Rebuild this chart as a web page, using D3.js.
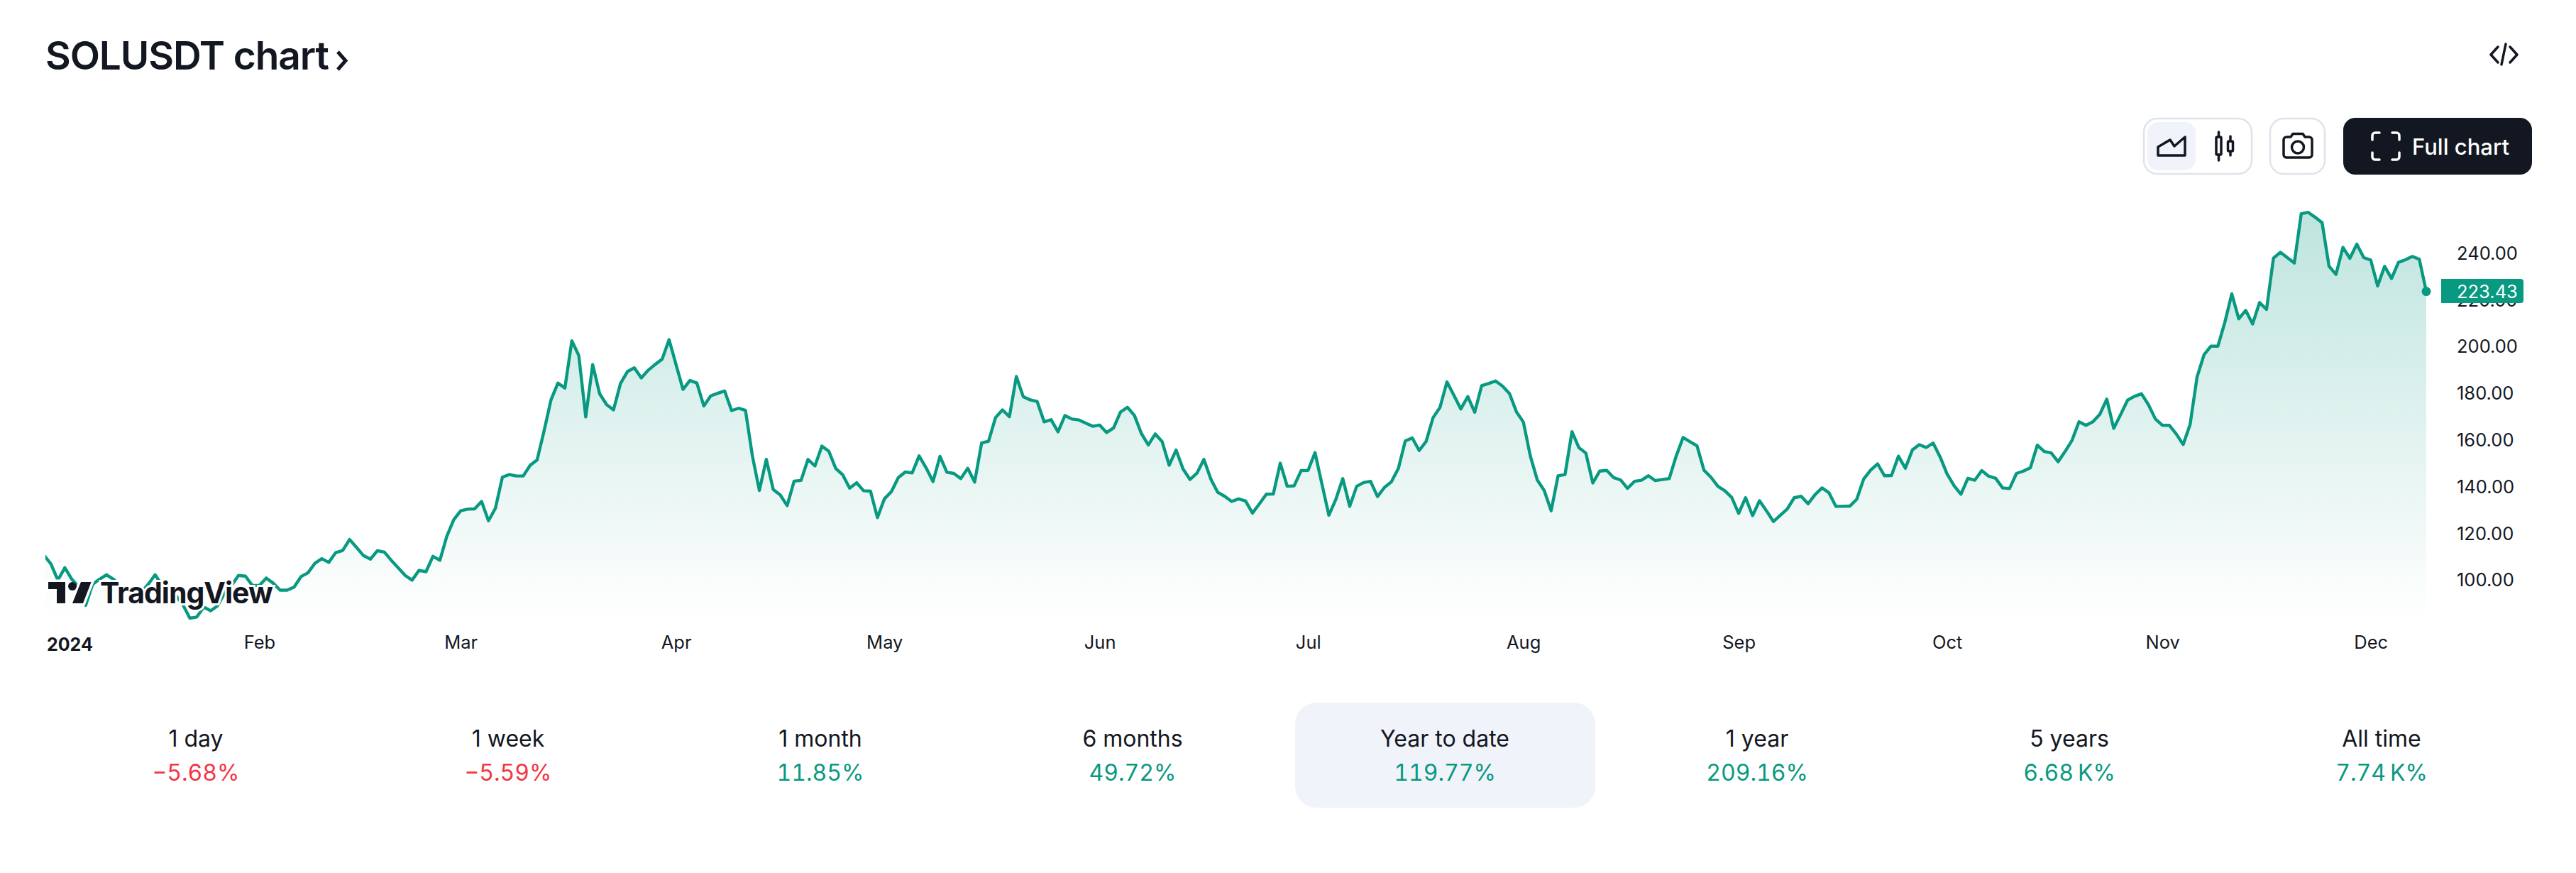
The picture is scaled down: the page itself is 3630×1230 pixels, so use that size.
<!DOCTYPE html>
<html><head><meta charset="utf-8"><title>SOLUSDT chart</title>
<script src="https://cdn.jsdelivr.net/npm/d3@7"></script>
<style>html,body{margin:0;background:#fff}svg{display:block}text{font-family:Inter,"Noto Sans",sans-serif}.tnum{font-variant-numeric:tabular-nums}</style>
</head><body><svg id="c" width="3630" height="1230"></svg>
<script>
const startDate = "2024-01-01";
const closes = [
110.5,106.7,99.8,105.1,100.2,96.9,89.0,98.0,100.2,102.1,100.2,96.9,95.3,93.7,94.7,98.0,102.1,97.5,95.3,93.1,
89.3,83.5,84.0,88.3,86.7,88.8,94.2,97.5,101.8,101.5,97.5,97.5,100.7,98.5,95.5,95.5,96.8,101.3,102.9,107.0,
109.0,107.4,111.6,112.5,117.2,113.8,110.3,108.8,112.4,111.8,108.3,105.1,101.8,99.8,104.0,103.4,110.0,108.3,118.6,125.7,
129.5,130.2,130.3,133.5,125.2,130.6,143.9,145.0,144.4,144.4,149.0,151.3,163.7,177.0,184.2,182.1,202.3,196.0,169.7,192.1,
179.6,175.0,172.7,184.0,189.1,190.7,186.4,189.7,192.2,194.4,202.8,192.1,181.5,185.3,184.2,174.4,178.7,179.8,180.8,172.4,
173.4,172.5,152.9,138.2,151.5,138.6,136.3,131.7,142.2,142.5,151.5,148.7,157.2,155.0,147.6,144.9,139.2,141.5,138.1,137.9,
126.6,134.6,137.7,143.7,146.1,145.7,153.0,147.9,142.0,152.8,146.0,145.5,143.3,147.7,141.8,158.5,159.3,169.4,172.7,169.8,
187.0,178.3,177.0,176.3,167.6,168.5,163.3,170.3,168.8,168.4,167.0,165.7,166.2,163.0,165.0,171.8,173.8,170.3,162.6,157.7,
162.4,159.1,149.0,155.5,147.4,142.9,145.6,151.5,143.1,137.4,135.7,133.5,134.6,133.7,128.5,132.5,136.6,136.7,149.9,140.0,
140.2,146.7,146.8,154.4,140.9,127.6,134.4,143.3,131.4,140.0,141.6,142.1,135.6,139.5,141.9,147.6,159.4,160.7,155.3,159.2,
169.4,173.8,184.7,178.9,173.1,178.4,171.7,183.1,184.0,185.1,182.9,179.7,171.9,167.5,153.0,142.7,138.2,129.5,144.5,145.0,
163.4,156.5,154.2,141.4,146.5,146.8,143.7,142.7,139.1,142.1,142.6,144.5,142.4,142.9,143.3,152.9,160.9,159.1,157.3,146.9,
143.9,140.0,138.1,135.2,128.4,135.1,127.4,133.8,129.5,124.9,127.6,130.3,135.1,135.7,132.5,136.4,139.3,137.2,131.4,131.4,
131.5,134.4,143.1,146.9,149.6,144.5,144.6,152.9,147.7,155.5,157.8,156.6,158.5,152.6,145.3,140.3,136.6,143.4,142.6,146.7,
144.3,143.4,139.3,139.0,145.5,146.5,147.9,157.6,154.9,154.3,150.5,154.9,159.7,167.6,166.1,167.6,170.8,177.3,164.8,170.7,
176.9,178.5,179.6,174.9,168.8,166.1,166.1,162.4,157.9,166.5,186.8,196.3,200.0,200.0,210.2,222.4,211.7,215.3,209.5,218.7,
215.7,237.7,240.2,237.9,235.6,256.7,257.3,255.2,252.9,234.2,230.7,242.3,237.6,243.7,237.9,236.9,225.8,234.2,229.0,235.9,
237.0,238.4,237.2,223.43];
const priceTicks = [100,120,140,160,180,200,220,240];
const monthStarts = ["2024-02-01","2024-03-01","2024-04-01","2024-05-01","2024-06-01","2024-07-01","2024-08-01","2024-09-01","2024-10-01","2024-11-01","2024-12-01"];
const monthLabels = ["Feb","Mar","Apr","May","Jun","Jul","Aug","Sep","Oct","Nov","Dec"];
const yearLabel = "2024";
const tabLabels = ["1 day","1 week","1 month","6 months","Year to date","1 year","5 years","All time"];
const tabValues = ["\u22125.68%","\u22125.59%","11.85%","49.72%","119.77%","209.16%","6.68\u202fK%","7.74\u202fK%"];
const activeTab = "Year to date";

const GREEN="#089981", RED="#f23645", INK="#131722", LINE="#e0e3eb", SOFT="#f0f3fa";
const svg=d3.select("#c");
const t0=new Date(startDate+"T00:00:00Z");
const points=closes.map((v,i)=>({d:d3.utcDay.offset(t0,i),v}));
const x=d3.scaleUtc().domain([t0,points[points.length-1].d]).range([62,3419]);
const y=d3.scaleLinear().domain([100,240]).range([816.7,356.1]);

const defs=svg.append("defs");
const g=defs.append("linearGradient").attr("id","fade").attr("gradientUnits","userSpaceOnUse")
  .attr("x1",0).attr("x2",0).attr("y1",298).attr("y2",876);
g.append("stop").attr("offset",0).attr("stop-color",GREEN).attr("stop-opacity",.26);
g.append("stop").attr("offset",1).attr("stop-color",GREEN).attr("stop-opacity",0);
defs.append("clipPath").attr("id","pane").append("rect").attr("x",64).attr("y",280).attr("width",3400).attr("height",600);

// price axis (under the last-price badge)
const ya=svg.append("g").attr("transform","translate(3462,1)")
  .call(d3.axisRight(y).tickValues(priceTicks).tickSize(0).tickPadding(0).tickFormat(d3.format(".2f")));
ya.select(".domain").remove();
ya.selectAll("text").attr("font-size",25.5).attr("fill",INK).attr("font-family","Inter").attr("text-anchor","start");

// time axis
const xa=svg.append("g").attr("transform","translate(0,896)")
  .call(d3.axisBottom(x).tickValues(monthStarts.map(s=>new Date(s+"T00:00:00Z"))).tickSize(0).tickPadding(0)
    .tickFormat((d,i)=>monthLabels[i]));
xa.select(".domain").remove();
xa.selectAll("text").attr("font-size",25.5).attr("fill",INK).attr("font-family","Inter");
svg.append("text").attr("x",66).attr("y",917).attr("font-size",25).attr("font-weight",700).attr("fill",INK).text(yearLabel);

// area + line
const pane=svg.append("g").attr("clip-path","url(#pane)");
pane.append("path").datum(points).attr("fill","url(#fade)")
  .attr("d",d3.area().x(d=>x(d.d)).y0(876).y1(d=>y(d.v)));
pane.append("path").datum(points).attr("fill","none").attr("stroke",GREEN).attr("stroke-width",4.4).attr("stroke-linejoin","round")
  .attr("d",d3.line().x(d=>x(d.d)).y(d=>y(d.v)));
const last=points[points.length-1];

// last-price badge and dot
svg.append("path").attr("fill",GREEN).attr("d","M3440 393H3552a4 4 0 0 1 4 4V423a4 4 0 0 1 -4 4H3440Z");
svg.append("text").attr("x",3462).attr("y",y(last.v)).attr("dy","0.36em").attr("font-size",25.5).attr("fill","#fff").text(last.v.toFixed(2));
svg.append("circle").attr("cx",x(last.d)).attr("cy",y(last.v)).attr("r",6.5).attr("fill",GREEN);

// TradingView logo with white halo
const logo=svg.append("g");
const logoShapes=[
 "M68 820H92V850H80V830H68Z",
 "M114 820H128.6L117 850H102Z"];
logoShapes.forEach(p=>{logo.append("path").attr("d",p).attr("fill",INK).attr("stroke","#fff").attr("stroke-width",7).attr("paint-order","stroke");});
logo.append("circle").attr("cx",102).attr("cy",826).attr("r",6).attr("fill",INK);
logo.append("text").attr("x",141).attr("y",850).attr("font-size",41).attr("font-weight",700).attr("letter-spacing",-1)
  .attr("fill",INK).attr("stroke","#fff").attr("stroke-width",6).attr("paint-order","stroke").text("TradingView");

// title
svg.append("text").attr("x",64).attr("y",98).attr("font-size",55).attr("font-weight",600).attr("letter-spacing",-1.1).attr("fill",INK).text("SOLUSDT chart");
svg.append("path").attr("d","M476 73L487 85.5L476 98").attr("fill","none").attr("stroke",INK).attr("stroke-width",5);

// toolbar
const icon=o=>o.attr("fill","none").attr("stroke",INK).attr("stroke-width",3.5).attr("stroke-linecap","round").attr("stroke-linejoin","round");
icon(svg.append("path")).attr("d","M3520 66L3510 77L3520 88M3531 62L3525 91M3537 66L3547 77L3537 88");
svg.append("rect").attr("x",3021).attr("y",167).attr("width",152).attr("height",78).attr("rx",19).attr("fill","#fff").attr("stroke",LINE).attr("stroke-width",2.5);
svg.append("rect").attr("x",3026).attr("y",172).attr("width",68).attr("height",68).attr("rx",15).attr("fill",SOFT);
icon(svg.append("path")).attr("d","M3041 219V207L3058 197L3064 206L3079 193V219Z");
icon(svg.append("path")).attr("d","M3126.5 186V193M3126.5 218V226M3143 192V199M3143 213V219");
icon(svg.append("rect")).attr("x",3123).attr("y",193).attr("width",7).attr("height",25).attr("rx",1.5);
icon(svg.append("rect")).attr("x",3139.5).attr("y",199).attr("width",7).attr("height",14).attr("rx",1.5);
svg.append("rect").attr("x",3199).attr("y",167).attr("width",77).attr("height",78).attr("rx",19).attr("fill","#fff").attr("stroke",LINE).attr("stroke-width",2.5);
icon(svg.append("path")).attr("d","M3222 193H3228L3231 188.500H3245L3248 193H3254a4 4 0 0 1 4 4V218a4 4 0 0 1 -4 4H3222a4 4 0 0 1 -4 -4V197a4 4 0 0 1 4 -4Z");
icon(svg.append("circle")).attr("cx",3238).attr("cy",207.500).attr("r",8.5);
svg.append("rect").attr("x",3302).attr("y",166).attr("width",266).attr("height",80).attr("rx",17).attr("fill",INK);
icon(svg.append("path")).attr("stroke","#fff").attr("d","M3343 197V191a4 4 0 0 1 4 -4H3353M3371 187H3377a4 4 0 0 1 4 4V197M3381 215V221a4 4 0 0 1 -4 4H3371M3353 225H3347a4 4 0 0 1 -4 -4V215");
svg.append("text").attr("x",3399).attr("y",218).attr("font-size",31).attr("font-weight",500).attr("fill","#fff").text("Full chart");

// period tabs
const tabX=d3.scalePoint().domain(tabLabels).range([276,3356]);
svg.append("rect").attr("x",tabX(activeTab)-211).attr("y",990).attr("width",423).attr("height",148).attr("rx",30).attr("fill",SOFT);
const tabs=svg.append("g").selectAll("g").data(tabLabels).join("g").attr("transform",d=>`translate(${tabX(d)},0)`);
tabs.append("text").attr("y",1052).attr("text-anchor","middle").attr("font-size",32).attr("fill",INK).text(d=>d);
tabs.append("text").attr("class","tnum").attr("y",1100).attr("text-anchor","middle").attr("font-size",32)
  .attr("fill",(d,i)=>tabValues[i].startsWith("\u2212")?RED:GREEN).text((d,i)=>tabValues[i]);
</script></body></html>
